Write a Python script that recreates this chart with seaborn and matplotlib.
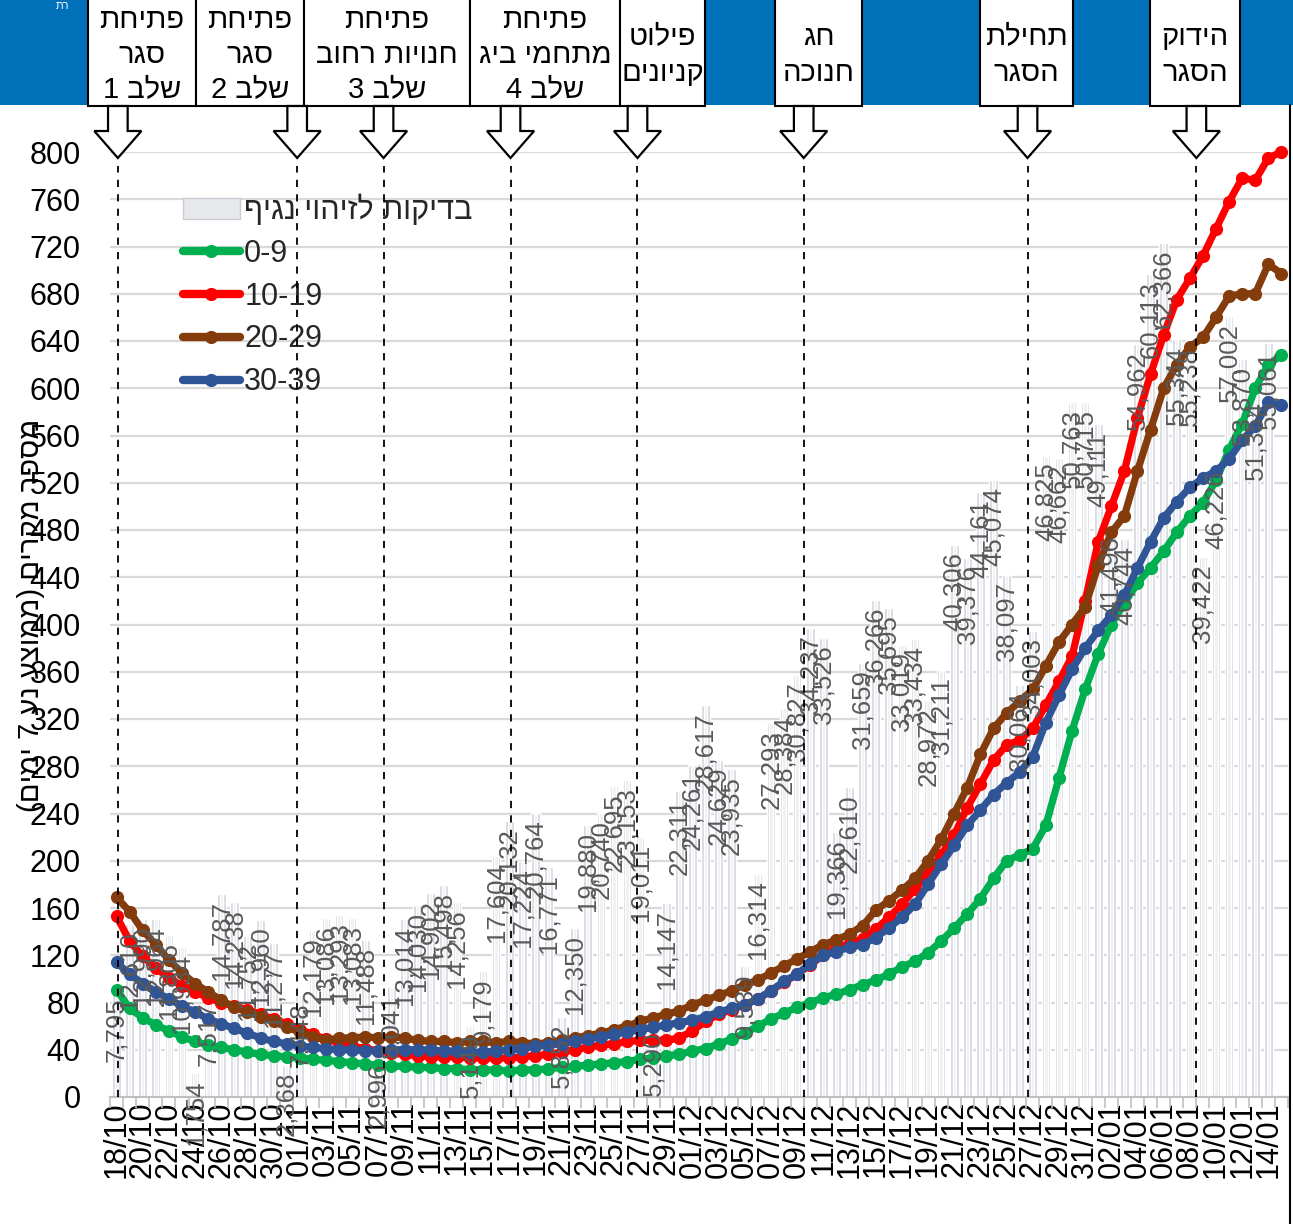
import re
import numpy as np
import pandas as pd
import matplotlib
matplotlib.use('Agg')
import matplotlib.pyplot as plt
import seaborn as sns
from matplotlib import transforms
from matplotlib.patches import Rectangle, Polygon, Patch
from matplotlib.lines import Line2D

# %%
W, H = 1293, 1224

dates = pd.date_range('2020-10-18', periods=90).strftime('%d/%m').tolist()

tests = [7795, 12610, 12990, 12964, 11806, 10934, 1754, 7517, 14787, 14238,
         11752, 12960, 11277, 2368, 7448, 12179, 13086, 13293, 13083, 11488,
         2996, 8041, 13014, 14030, 14902, 15498, 14256, 5149, 9179, 17604,
         20132, 17224, 20764, 16771, 5852, 12350, 19880, 20740, 22695, 23153,
         19011, 5290, 14147, 22311, 24261, 28617, 24629, 23935, 9539, 16314,
         27293, 28384, 30827, 34237, 33526, 19366, 22610, 31659, 36266, 35695,
         33019, 33434, 28972, 31211, 40306, 39376, 44161, 45074, 38097, 30064,
         34003, 46825, 46662, 50763, 50715, 49111, 41496, 40744, 54962, 60113,
         62366, 55344, 55238, 39422, 46226, 57002, 53870, 51354, 55061, np.nan]

age_0_9 = [91, 75, 67, 61, 56, 51, 47, 44, 42, 40, 38, 36, 35, 34, 33, 32, 31, 30,
           29, 28, 27, 26, 26, 25, 25, 24, 24, 23, 23, 23, 22, 23, 23, 24, 25, 26,
           27, 28, 29, 30, 32, 33, 35, 36, 39, 41, 45, 49, 54, 60, 66, 71, 76, 80,
           84, 87, 91, 95, 99, 104, 110, 115, 122, 132, 143, 155, 168, 185, 200,
           205, 210, 230, 270, 310, 345, 375, 400, 418, 435, 448, 462, 478, 492,
           503, 522, 548, 570, 600, 620, 628]

age_10_19 = [153, 132, 119, 109, 101, 94, 89, 84, 80, 77, 74, 70, 66, 62, 57, 53,
             49, 46, 43, 41, 39, 37, 36, 35, 34, 34, 34, 33, 33, 33, 33, 34, 35, 36,
             38, 40, 42, 44, 45, 47, 48, 48, 48, 50, 56, 64, 70, 74, 78, 83, 90, 97,
             104, 112, 120, 126, 130, 134, 142, 152, 163, 176, 190, 205, 222, 245,
             265, 285, 298, 302, 312, 332, 352, 373, 420, 470, 500, 530, 575, 612,
             645, 675, 693, 712, 735, 758, 778, 776, 795, 800]

age_20_29 = [169, 157, 141, 129, 116, 105, 96, 89, 82, 76, 72, 68, 64, 59, 55, 51,
             48, 50, 50, 51, 50, 51, 50, 48, 47, 47, 46, 47, 47, 46, 47, 46, 45, 46,
             48, 50, 52, 54, 57, 60, 64, 67, 70, 73, 78, 82, 86, 90, 95, 99, 105,
             111, 117, 123, 129, 133, 138, 145, 158, 166, 175, 185, 200, 218, 240,
             262, 290, 312, 325, 335, 345, 365, 385, 400, 415, 450, 478, 492, 530,
             565, 600, 620, 635, 643, 660, 678, 680, 680, 705, 697]

age_30_39 = [114, 104, 96, 89, 83, 77, 72, 66, 62, 58, 54, 50, 47, 45, 43, 42, 41,
             40, 40, 39, 39, 40, 40, 40, 40, 39, 39, 38, 38, 39, 40, 41, 43, 44, 45,
             47, 49, 51, 53, 55, 57, 59, 61, 63, 65, 68, 72, 75, 78, 83, 90, 98, 104,
             113, 120, 123, 127, 129, 135, 143, 152, 163, 180, 197, 213, 230, 243,
             256, 266, 275, 288, 317, 340, 362, 380, 395, 408, 425, 448, 470, 490,
             504, 516, 524, 530, 540, 556, 568, 588, 586]

series = ['0-9', '10-19', '20-29', '30-39']
colors = ['#00b050', '#ff0000', '#843c0c', '#2f5597']

# event markers (position on the date axis) and their captions
event_pos = [0.1, 13.8, 20.4, 30.1, 39.8, 52.5, 69.6, 82.5]
boxes = [
    (88, 196, 'פתיחת\nסגר\nשלב 1'),
    (196, 304, 'פתיחת\nסגר\nשלב 2'),
    (304, 470, 'פתיחת\nחנויות רחוב\nשלב 3'),
    (470, 620, 'פתיחת\nמתחמי ביג\nשלב 4'),
    (620, 705, 'פילוט\nקניונים'),
    (775, 862, 'חג\nחנוכה'),
    (980, 1073, 'תחילת\nהסגר'),
    (1150, 1240, 'הידוק\nהסגר'),
]


def heb(s):
    # matplotlib has no bidi support: put hebrew in visual order
    out = []
    for line in s.split('\n'):
        r = line[::-1].translate(str.maketrans('()', ')('))
        r = re.sub(r'\d+', lambda m: m.group(0)[::-1], r)
        out.append(r)
    return '\n'.join(out)


def fx(px):
    return px / W


def fy(py):
    return 1 - py / H


# %%
df = pd.DataFrame({'idx': range(90), 'date': dates, 'tests': tests,
                   '0-9': age_0_9, '10-19': age_10_19,
                   '20-29': age_20_29, '30-39': age_30_39})

sns.set_theme(style='white')
plt.rcParams['font.family'] = ['Liberation Sans', 'DejaVu Sans']

fig = plt.figure(figsize=(W / 100, H / 100), dpi=100, facecolor='white')
ax = fig.add_axes([fx(110), fy(1097), (1288 - 110) / W, (1097 - 152) / H])
ax2 = ax.twinx()

# bars (tests) on the hidden secondary axis
sns.barplot(data=df, x='idx', y='tests', order=list(range(90)), color='#d3d6dd',
            saturation=1, width=0.66, errorbar=None, ax=ax2)
sns.barplot(data=df, x='idx', y='tests', order=list(range(90)), color='#eef0f3',
            saturation=1, width=0.26, errorbar=None, ax=ax2)
ax2.set_ylim(0, 69000)
ax2.set_yticks(np.arange(0, 69001, 3450))
ax2.grid(axis='y', color='#d9d9d9', lw=1.6)
ax2.grid(axis='x', visible=False)
ax2.set_axisbelow(True)
ax2.tick_params(axis='y', right=False, labelright=False, left=False, labelleft=False)
ax2.set_ylabel('')
for s in ax2.spines.values():
    s.set_visible(False)

ax.set_zorder(ax2.get_zorder() + 1)
ax.patch.set_visible(False)

for name, c in zip(series, colors):
    sns.lineplot(data=df, x='idx', y=name, color=c, lw=5.2, marker='o',
                 markersize=9.5, markeredgewidth=0, clip_on=False, ax=ax)

# data labels of the bars, inside end, rotated
lab_tr = transforms.offset_copy(ax2.transData, fig=fig, y=-7, units='dots')
for i, v in enumerate(tests):
    if np.isnan(v):
        continue
    ax.text(i, v, f'{int(v):,}', transform=lab_tr, rotation=90, ha='center',
            va='top', fontsize=18.5, color='#595959', zorder=6)

for p in event_pos:
    ax.axvline(p, ymin=0, ymax=0.985, color='black', ls=(0, (4, 4)), lw=1.3, zorder=7)

ax.set_xlim(-0.5, 89.5)
ax.set_ylim(0, 800)
ax.set_yticks(range(0, 801, 40))
ax.set_xticks(range(0, 90, 2))
ax.set_xticklabels(dates[::2], rotation=90)
ax.set_xticks(np.arange(-0.5, 90, 1), minor=True)
ax.tick_params(axis='x', which='major', length=0, pad=3, labelsize=22, colors='black')
ax.tick_params(axis='x', which='minor', length=8, width=1.2, color='#bfbfbf', bottom=True)
ax.tick_params(axis='y', length=0, pad=21, labelsize=22, colors='black')
ax.grid(False)
ax.set_xlabel('')
ax.set_ylabel(heb('מספר מקרים (ממוצע נע 7 ימים)'), fontsize=21, color='black')
ax.yaxis.set_label_coords(-0.055, 0.51)
for k in ['top', 'right', 'left']:
    ax.spines[k].set_visible(False)
ax.spines['bottom'].set_color('#bfbfbf')
ax.spines['bottom'].set_linewidth(1.5)

handles = [Patch(facecolor='#e6e8ec', edgecolor='#c9ccd2', lw=1)]
handles += [Line2D([0], [0], color=c, lw=6, marker='o', markersize=9.5,
                   markeredgewidth=0) for c in colors]
labels = [heb('בדיקות לזיהוי נגיף')] + series
ax.legend(handles, labels, loc='upper left', bbox_to_anchor=(0.062, 0.955),
          frameon=False, fontsize=22, handlelength=1.85, handletextpad=0.15,
          labelspacing=0.42, borderaxespad=0, borderpad=0)

# top banner with event boxes
fig.add_artist(Rectangle((0, fy(105)), 1, 105 / H, transform=fig.transFigure,
                         facecolor='#0070b8', edgecolor='none', zorder=1))
fig.text(fx(62), fy(6), 'תר', color='white', fontsize=8, ha='center', va='center')
for x0, x1, txt in boxes:
    fig.add_artist(Rectangle((fx(x0), fy(106)), (x1 - x0) / W, 110 / H,
                             transform=fig.transFigure, facecolor='white',
                             edgecolor='black', lw=1.5, zorder=2))
    fig.text(fx((x0 + x1) / 2), fy(55), heb(txt), ha='center', va='center',
             fontsize=21, linespacing=1.33, color='black', zorder=3)

tr = transforms.blended_transform_factory(ax.transData, fig.transFigure)
for p in event_pos:
    pts = [(p - 0.75, fy(106)), (p + 0.75, fy(106)), (p + 0.75, fy(131)),
           (p + 1.8, fy(131)), (p, fy(158)), (p - 1.8, fy(131)), (p - 0.75, fy(131))]
    fig.add_artist(Polygon(pts, closed=True, transform=tr, facecolor='white',
                           edgecolor='black', lw=1.6, zorder=4))

fig.add_artist(Line2D([fx(1290), fx(1290)], [0, fy(105)], transform=fig.transFigure,
                      color='black', lw=1.5))

fig.savefig('out.png', dpi=100)
